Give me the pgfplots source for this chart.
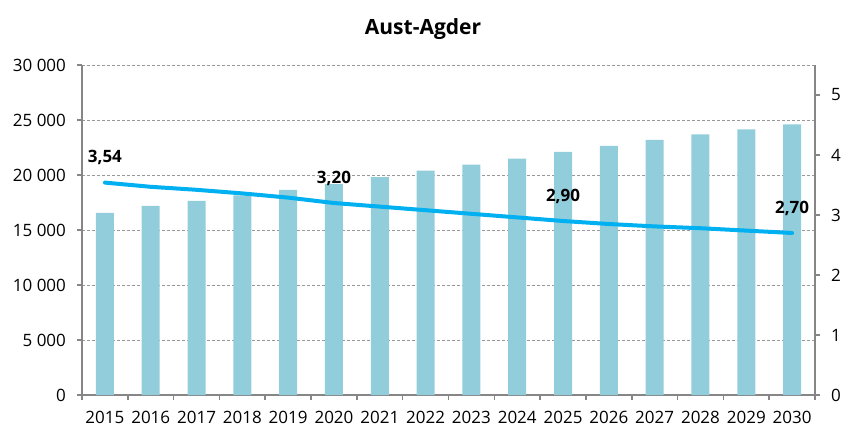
\documentclass[border=0pt]{standalone}
\usepackage{fontspec}
\setmainfont{Open Sans}
\usepackage{pgfplots}
\pgfplotsset{compat=1.18}
\usetikzlibrary{calc}
\definecolor{barblue}{RGB}{146,205,220}
\definecolor{lineblue}{RGB}{0,176,240}
\definecolor{axgray}{RGB}{134,134,134}

\begin{document}
\begin{tikzpicture}
\pgfplotsset{
  every axis/.append style={
    scale only axis, width=366.5pt, height=165pt,
    xmin=-0.5, xmax=15.5,
    font=\fontsize{8.5}{10}\selectfont,
    /pgf/number format/assume math mode=true,
    axis line style={axgray, line width=0.8pt},
    tick style={axgray, line width=0.8pt},
    tick align=outside, major tick length=2.5pt,
  }
}
\begin{axis}[name=main,
  axis x line*=bottom, axis y line*=left,
  ymin=0, ymax=30000, ytick={0,5000,...,30000},
  ymajorgrids, major grid style={dash pattern=on 1.5pt off 1pt, gray!80, line width=0.4pt},
  scaled y ticks=false,
  yticklabel style={/pgf/number format/1000 sep={\ }, xshift=-2pt},
  xtick={0,...,15},
  xticklabels={2015,2016,2017,2018,2019,2020,2021,2022,2023,2024,2025,2026,2027,2028,2029,2030},
  xticklabel style={yshift=-2pt},
  xtick style={draw=none},
  extra x ticks={-0.5,0.5,...,15.5},
  extra x tick labels={},
  extra x tick style={xtick style={draw=axgray}, grid=none},
  title={\bfseries Aust-Agder},
  title style={font=\fontsize{10.5}{12}\selectfont, xshift=-12.75pt, yshift=3pt},
]
\addplot[ybar, bar width=9pt, fill=barblue, draw=none] coordinates {
  (0,16550) (1,17200) (2,17650) (3,18150) (4,18650) (5,19200) (6,19800) (7,20400)
  (8,20950) (9,21500) (10,22100) (11,22650) (12,23200) (13,23700) (14,24150) (15,24600)};
\end{axis}
\begin{axis}[
  axis x line=none, axis y line*=right,
  ymin=0, ymax=5.5, ytick={0,1,...,5},
  yticklabel style={xshift=2pt},
  clip=false,
]
\addplot[lineblue, line width=2pt, line cap=round] coordinates {
  (0,3.54) (1,3.47) (2,3.42) (3,3.36) (4,3.29) (5,3.20) (6,3.14) (7,3.08)
  (8,3.02) (9,2.96) (10,2.90) (11,2.85) (12,2.81) (13,2.78) (14,2.74) (15,2.70)};
\addplot[draw=none, point meta=y, nodes near coords={\pgfmathprintnumber[fixed, fixed zerofill, precision=2, use comma]{\pgfplotspointmeta}},
  nodes near coords style={font=\fontsize{8.5}{10}\selectfont\bfseries, anchor=center, yshift=12.5pt}] coordinates {
  (0,3.54) (5,3.20) (10,2.90) (15,2.70)};
\end{axis}
\path[use as bounding box] ($(main.south west)+(-41pt,-22pt)$) rectangle ($(main.north east)+(16.5pt,32.5pt)$);
\end{tikzpicture}
\end{document}
